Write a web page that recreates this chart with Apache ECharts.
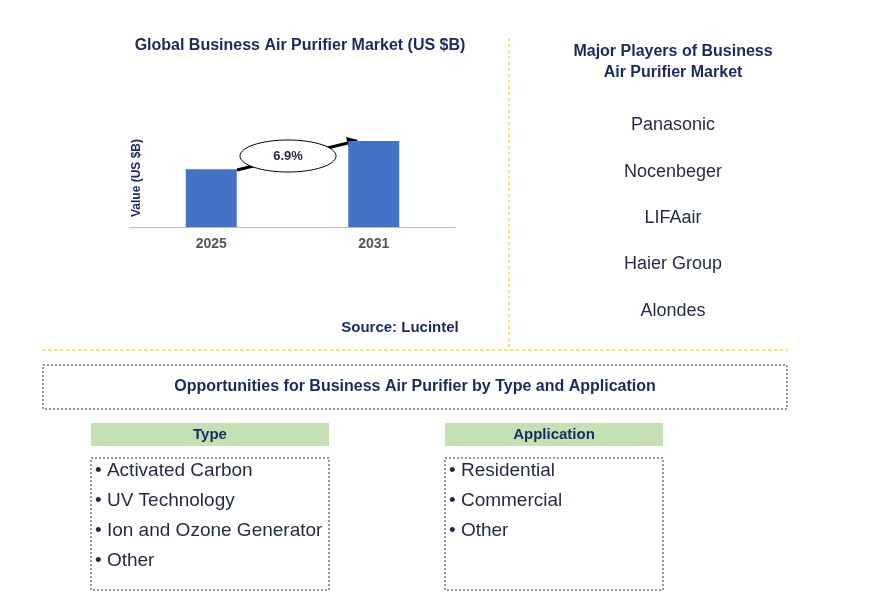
<!DOCTYPE html>
<html><head><meta charset="utf-8">
<script src="https://cdn.jsdelivr.net/npm/echarts@6/dist/echarts.min.js"></script>
<style>html,body{margin:0;padding:0;background:#fff}#c{width:888px;height:612px}</style>
</head><body><div id="c"></div>
<script>
const years = ['2025', '2031'];
const values = [1.0, 1.49];
const cagr = '6.9%';
const players = ['Panasonic', 'Nocenbeger', 'LIFAair', 'Haier Group', 'Alondes'];
const types = ['Activated Carbon', 'UV Technology', 'Ion and Ozone Generator', 'Other'];
const apps = ['Residential', 'Commercial', 'Other'];

const navy = '#1a2a5e';
const chart = echarts.init(document.getElementById('c'));
const g = [];
const txt = (x, y, t, o) => g.push(Object.assign({type:'text', x, y, style:Object.assign({text:t, fill:navy, font:'bold 15px Arial', align:'center', verticalAlign:'middle'}, o||{})}));
txt(300, 46, 'Global Business Air Purifier Market (US $B)', {font:'bold 16px Arial'});
txt(673, 52, 'Major Players of Business', {font:'bold 16px Arial'});
txt(673, 73, 'Air Purifier Market', {font:'bold 16px Arial'});
players.forEach((p, i) => txt(673, [125,172,218,264,311][i], p, {font:'18px Arial', fill:'#1f2a44'}));
txt(400, 328, 'Source: Lucintel', {font:'bold 15px Arial'});
g.push({type:'line', shape:{x1:509,y1:38,x2:509,y2:348}, style:{stroke:'#f2c200', lineDash:[3,3], lineWidth:1}});
g.push({type:'line', shape:{x1:42,y1:350,x2:787,y2:350}, style:{stroke:'#f2c200', lineDash:[3,3], lineWidth:1}});
g.push({type:'rect', shape:{x:43,y:365,width:744,height:44}, style:{fill:'none', stroke:'#333', lineDash:[2,2]}});
txt(415, 387, 'Opportunities for Business Air Purifier by Type and Application', {font:'bold 16px Arial'});
const panel = (x, w, head, items) => {
  g.push({type:'rect', shape:{x, y:423, width:w, height:23}, style:{fill:'#c5e0b4'}});
  txt(x + w/2, 435, head, {font:'bold 15px Arial'});
  g.push({type:'rect', shape:{x, y:458, width:w, height:132}, style:{fill:'none', stroke:'#333', lineDash:[2,2]}});
  items.forEach((s, i) => txt(x + 4, 471 + 30*i, '• ' + s, {align:'left', font:'19px Arial', fill:'#1f2a44'}));
};
panel(91, 238, 'Type', types);
panel(445, 218, 'Application', apps);
g.push({type:'line', shape:{x1:237,y1:170,x2:352,y2:142}, style:{stroke:'#000', lineWidth:3}});
g.push({type:'polygon', shape:{points:[[358,140],[346,137],[349,148]]}, style:{fill:'#000'}});
g.push({type:'ellipse', shape:{cx:288,cy:156,rx:48,ry:16}, style:{fill:'#fff', stroke:'#000', lineWidth:1}});
txt(288, 156, cagr, {font:'bold 13px Arial', fill:'#1f2a44'});
g.push({type:'text', x:137, y:178, rotation:Math.PI/2, style:{text:'Value (US $B)', fill:navy, font:'bold 12px Arial', align:'center', verticalAlign:'middle'}});

chart.setOption({
  animation:false,
  grid:{left:130, right:433, top:100, bottom:385},
  xAxis:{type:'category', data:years, axisTick:{show:false}, axisLine:{lineStyle:{color:'#bbb'}},
    axisLabel:{color:'#555', fontWeight:'bold', fontSize:14, margin:10}},
  yAxis:{type:'value', min:0, max:2.2, show:false},
  series:[{type:'bar', data:values, barWidth:51, itemStyle:{color:'#4472c4'}}],
  graphic:g
});
</script></body></html>
